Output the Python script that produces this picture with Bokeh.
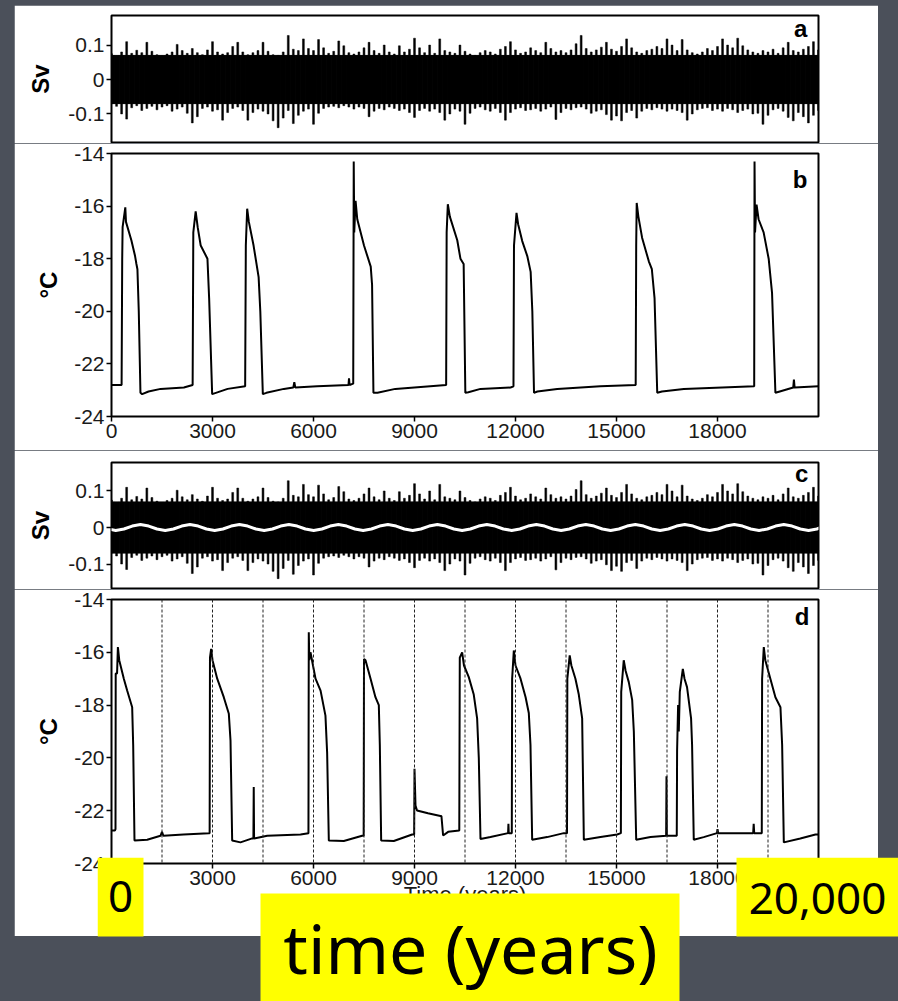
from bokeh.plotting import figure
from bokeh.models import Range1d, FixedTicker, Label, Span
from bokeh.layouts import column
from bokeh.core.properties import value
from bokeh.embed import file_html
from bokeh.resources import INLINE

# ---------------- data ----------------
# freshwater-flux noise envelope (panels a and c), sampled every 150 years, in mSv
noise_t = list(range(0, 21001, 150))
noise_upper_mSv = [75, 68, 80, 110, 76, 85, 78, 108, 82, 72,
                   68, 74, 80, 102, 84, 76, 90, 78, 72, 86,
                   110, 80, 74, 78, 96, 108, 80, 72, 78, 84,
                   108, 82, 72, 70, 80, 128, 88, 84, 118, 90,
                   84, 116, 92, 76, 82, 112, 98, 78, 74, 80,
                   92, 108, 84, 76, 100, 80, 74, 98, 80, 88,
                   120, 92, 78, 100, 76, 118, 84, 80, 76, 100,
                   82, 74, 70, 78, 84, 80, 74, 88, 96, 110,
                   86, 76, 80, 92, 84, 78, 108, 90, 80, 84,
                   78, 86, 104, 128, 90, 80, 86, 94, 108, 88,
                   82, 96, 118, 92, 80, 76, 84, 88, 96, 90,
                   118, 100, 84, 116, 86, 78, 74, 80, 90, 84,
                   96, 118, 100, 92, 120, 98, 86, 80, 76, 84,
                   80, 88, 76, 92, 108, 84, 80, 88, 96, 110,
                   86]
noise_lower_mSv = [-70, -78, -100, -115, -82, -76, -90, -84, -78, -88,
                   -80, -76, -92, -86, -80, -98, -126, -108, -84, -80,
                   -92, -88, -118, -96, -84, -80, -90, -118, -96, -86,
                   -92, -100, -120, -140, -112, -90, -128, -104, -92, -86,
                   -130, -98, -84, -80, -78, -82, -76, -80, -86, -80,
                   -84, -108, -92, -84, -88, -80, -84, -90, -86, -96,
                   -110, -90, -84, -92, -86, -96, -118, -100, -86, -92,
                   -130, -98, -84, -80, -88, -92, -84, -96, -118, -96,
                   -86, -82, -90, -88, -84, -92, -86, -80, -116, -96,
                   -84, -88, -82, -80, -86, -98, -92, -88, -102, -118,
                   -106, -120, -96, -90, -112, -92, -84, -88, -82, -86,
                   -92, -86, -90, -96, -118, -100, -88, -84, -82, -90,
                   -86, -92, -84, -88, -96, -90, -86, -100, -98, -130,
                   -104, -88, -84, -92, -110, -120, -96, -108, -126, -104,
                   -90]
noise_core_mSv = 70   # solid part of the noise band

# periodic forcing (white curve in panel c), Sv
wave_t = [-120, 125, 370, 615, 860, 1105, 1350, 1595, 1840, 2085, 2330, 2575,
          2820, 3065, 3310, 3555, 3800, 4045, 4290, 4535, 4780, 5025, 5270, 5515,
          5760, 6005, 6250, 6495, 6740, 6985, 7230, 7475, 7720, 7965, 8210, 8455,
          8700, 8945, 9190, 9435, 9680, 9925, 10170, 10415, 10660, 10905, 11150, 11395,
          11640, 11885, 12130, 12375, 12620, 12865, 13110, 13355, 13600, 13845, 14090, 14335,
          14580, 14825, 15070, 15315, 15560, 15805, 16050, 16295, 16540, 16785, 17030, 17275,
          17520, 17765, 18010, 18255, 18500, 18745, 18990, 19235, 19480, 19725, 19970, 20215,
          20460, 20705, 20950, 21195]
wave_v = [-0.004, -0.008, -0.004, 0.004, 0.008, 0.004, -0.004, -0.008, -0.004, 0.004, 0.008, 0.004,
          -0.004, -0.008, -0.004, 0.004, 0.008, 0.004, -0.004, -0.008, -0.004, 0.004, 0.008, 0.004,
          -0.004, -0.008, -0.004, 0.004, 0.008, 0.004, -0.004, -0.008, -0.004, 0.004, 0.008, 0.004,
          -0.004, -0.008, -0.004, 0.004, 0.008, 0.004, -0.004, -0.008, -0.004, 0.004, 0.008, 0.004,
          -0.004, -0.008, -0.004, 0.004, 0.008, 0.004, -0.004, -0.008, -0.004, 0.004, 0.008, 0.004,
          -0.004, -0.008, -0.004, 0.004, 0.008, 0.004, -0.004, -0.008, -0.004, 0.004, 0.008, 0.004,
          -0.004, -0.008, -0.004, 0.004, 0.008, 0.004, -0.004, -0.008, -0.004, 0.004, 0.008, 0.004,
          -0.004, -0.008, -0.004, 0.004]

# Greenland temperature, panel b (noise only)
b_t = [0, 300, 318, 330, 410, 430, 590, 700, 740, 770, 810, 860, 910, 1100, 1460, 2150,
       2410, 2430, 2500, 2560, 2650, 2850, 2900, 2990, 3100, 3450,
       3970, 3990, 4030, 4080, 4220, 4370, 4420, 4495, 4600, 5120, 5400, 5430, 5460, 6110,
       7040, 7055, 7070, 7180, 7195, 7210, 7250, 7300, 7500, 7700, 7740, 7780, 7900, 8430,
       9940, 9955, 9990, 10050, 10270, 10365, 10460, 10510, 10600, 10960, 11850,
       11940, 11955, 12030, 12080, 12200, 12350, 12450, 12500, 12550, 12650, 13240, 14520,
       15570, 15585, 15600, 15650, 15760, 15960, 16050, 16130, 16210, 16350, 17000,
       19090, 19100, 19115, 19160, 19220, 19370, 19520, 19620, 19720, 19850, 20250,
       20270, 20290, 21000]
b_v = [-22.8, -22.8, -18.0, -16.8, -16.05, -16.6, -17.3, -17.9, -18.2, -18.4, -20.0, -23.1, -23.15, -23.05, -22.95, -22.9,
       -22.8, -17.0, -16.2, -16.8, -17.5, -18.0, -19.5, -23.15, -23.1, -22.95,
       -22.85, -17.5, -16.1, -16.6, -17.5, -18.7, -20.0, -23.15, -23.1, -22.95, -22.9, -22.7, -22.9, -22.85,
       -22.8, -22.55, -22.8, -22.75, -14.3, -17.0, -15.8, -16.5, -17.5, -18.3, -19.0, -23.1, -23.1, -22.95,
       -22.8, -17.0, -15.93, -16.4, -17.3, -18.0, -18.2, -23.1, -23.08, -22.95, -22.9,
       -22.85, -17.5, -16.26, -16.7, -17.33, -17.9, -18.5, -20.0, -23.1, -23.05, -22.95, -22.85,
       -22.8, -17.5, -15.88, -16.4, -17.2, -18.1, -18.4, -19.5, -23.1, -23.05, -22.95,
       -22.85, -14.3, -17.0, -15.94, -16.5, -17.0, -18.0, -19.3, -23.1, -23.05, -22.9,
       -22.6, -22.9, -22.85]

# Greenland temperature, panel d (noise + periodic forcing)
d_t = [0, 100, 119, 125, 165, 190, 230, 366, 465, 614, 644, 683, 1060, 1455, 1500, 1540, 2140, 2890,
       2915, 2925, 2960, 3000, 3140, 3335, 3485, 3535, 3584, 3830, 4180, 4215, 4225, 4235, 4625, 5615,
       5850, 5860, 5875, 5910, 6060, 6210, 6355, 6405, 6455, 6900, 7445,
       7490, 7500, 7545, 7695, 7840, 7940, 7970, 8010, 8385, 8930,
       8990, 9000, 9030, 9075, 9400, 9770, 9800, 9850, 10000, 10330,
       10345, 10415, 10470, 10612, 10760, 10860, 10910, 10960, 11256, 11780, 11790, 11800, 11890,
       11900, 11950, 12000, 12150, 12300, 12395, 12445, 12495, 12940, 13435, 13530,
       13540, 13610, 13660, 13780, 13880, 13980, 14030, 14525, 15020, 15130,
       15140, 15215, 15270, 15365, 15465, 15515, 15585, 16010, 16475, 16485, 16495, 16750, 16790,
       16800, 16830, 16850, 16880, 16970, 17020, 17095, 17215, 17245, 17295, 17590, 17985, 18000, 18020,
       19060, 19075, 19090, 19315,
       19325, 19375, 19420, 19570, 19720, 19870, 19920, 19970, 20460, 20910, 21000]
d_v = [-22.75, -22.75, -22.7, -16.8, -16.8, -15.8, -16.3, -17.0, -17.45, -18.08, -19.5, -23.13, -23.1, -22.95, -22.8, -22.95, -22.9, -22.85,
       -22.85, -16.2, -15.87, -16.3, -17.0, -17.7, -18.33, -19.34, -23.13, -23.2, -23.05, -23.05, -21.1, -23.05, -22.95, -22.9,
       -22.85, -15.24, -16.3, -16.0, -17.0, -17.45, -18.4, -19.8, -23.13, -23.15, -22.95,
       -22.95, -16.25, -16.3, -17.0, -17.7, -18.0, -19.5, -23.13, -23.15, -22.9,
       -22.9, -20.41, -21.8, -21.99, -22.1, -22.2, -22.2, -22.94, -22.8, -22.75,
       -16.2, -16.0, -16.5, -16.94, -17.6, -18.5, -20.0, -23.07, -23.0, -22.85, -22.5, -22.85, -22.85,
       -17.0, -15.93, -16.5, -17.0, -17.7, -18.3, -19.5, -23.1, -23.0, -22.85, -22.85,
       -17.0, -16.12, -16.5, -17.0, -17.6, -18.5, -23.1, -23.0, -22.9, -22.85,
       -17.5, -16.3, -16.7, -17.13, -17.8, -19.0, -23.1, -23.0, -22.95, -20.7, -22.95, -22.95, -22.95,
       -19.72, -18.0, -19.0, -17.5, -16.63, -17.0, -17.32, -18.5, -19.5, -23.1, -23.0, -22.85, -22.7, -22.85,
       -22.85, -22.5, -22.85, -22.85,
       -17.0, -15.8, -16.3, -17.0, -17.7, -18.08, -19.5, -23.2, -23.05, -22.9, -22.9]

cycle_marks = [1500, 3000, 4500, 6000, 7500, 9000, 10500, 12000, 13500, 15000, 16500, 18000, 19500]

sv_ticks = [-0.1, 0, 0.1]
sv_tick_labels = ["-0.1", "0", "0.1"]
temp_ticks = [-24, -22, -20, -18, -16, -14]
temp_tick_labels = ["-24", "-22", "-20", "-18", "-16", "-14"]
time_ticks = [0, 3000, 6000, 9000, 12000, 15000, 18000]
time_tick_labels = ["0", "3000", "6000", "9000", "12000", "15000", "18000"]
panel_letters = ["a", "b", "c", "d"]
callout_texts = ["0", "20,000", "time (years)"]

# ---------------- layout / styling constants ----------------
BG = "#4b505a"
YEL = "#ffff00"
PANEL_X, PANEL_Y = 14, 5          # white slide panel origin on the page
W = 864                           # white panel width
FW = 707                          # plot frame width
LB = 97
RB = W - LB - FW
TICK_FONT = "Liberation Sans"
BOLD_FONT = "Liberation Sans"
X0, X1 = 0, 21000

# call-out overlay, page pixel coordinates
OV_L, OV_R, OV_T, OV_B = 97, 898, 857, 1001
box_left = [97, 736, 260]
box_right = [143, 898, 679]
box_top = [857, 857, 893]
box_bottom = [936, 936, 1001]
text_x = [120, 817, 470]
text_y = [896, 898, 947]
text_size = ["44px", "44px", "68px"]


def base_fig(height, top, bottom, yr, show_x, ylabel_standoff):
    kw = dict(width=W, height=height, x_range=Range1d(X0, X1), y_range=Range1d(*yr),
              output_backend="svg", toolbar_location=None,
              min_border_left=LB, min_border_right=RB,
              min_border_top=top, min_border_bottom=bottom)
    if not show_x:
        kw["x_axis_location"] = None
    p = figure(**kw)
    p.background_fill_color = "white"
    p.border_fill_color = "white"
    p.outline_line_color = "black"
    p.outline_line_width = 2
    p.xgrid.visible = False
    p.ygrid.visible = False
    for ax in p.axis:
        ax.axis_line_color = None
        ax.major_tick_out = 5
        ax.major_tick_in = 0
        ax.minor_tick_out = 0
        ax.minor_tick_in = 0
        ax.major_tick_line_color = "black"
        ax.major_tick_line_width = 1.5
        ax.major_label_text_font = TICK_FONT
        ax.major_label_text_font_size = "21px"
        ax.major_label_text_color = "#1a1a1a"
        ax.major_label_standoff = 2
    ya = p.yaxis[0]
    ya.axis_label_text_font = BOLD_FONT
    ya.axis_label_text_font_style = "bold"
    ya.axis_label_text_font_size = "24px"
    ya.axis_label_text_color = "black"
    ya.axis_label_standoff = ylabel_standoff
    if show_x:
        xa = p.xaxis[0]
        xa.ticker = FixedTicker(ticks=time_ticks)
        xa.major_label_overrides = dict(zip(time_ticks, time_tick_labels))
    return p


def sv_axis(p):
    ya = p.yaxis[0]
    ya.ticker = FixedTicker(ticks=sv_ticks)
    ya.major_label_overrides = dict(zip(sv_ticks, sv_tick_labels))
    ya.axis_label = "Sv"


def temp_axis(p):
    ya = p.yaxis[0]
    ya.ticker = FixedTicker(ticks=temp_ticks)
    ya.major_label_overrides = dict(zip(temp_ticks, temp_tick_labels))
    ya.axis_label = "°C"


def letter(p, text, x, y):
    p.add_layout(Label(x=x, y=y, text=text, text_align="right", text_baseline="alphabetic",
                       text_font=BOLD_FONT, text_font_style="bold", text_font_size="24px",
                       text_color="black"))


def noise(p):
    up = [v / 1000 for v in noise_upper_mSv]
    lo = [v / 1000 for v in noise_lower_mSv]
    core = noise_core_mSv / 1000
    p.vbar(x=noise_t, width=150, top=[core] * len(noise_t), bottom=[-core] * len(noise_t),
           fill_color="black", line_color="black")
    p.vbar(x=noise_t, width=55, top=up, bottom=lo, fill_color="black", line_color="black",
           line_width=0.5)


# ---- panel a ----  (frame: page y 15..142)
pa = base_fig(138, 10, 1, (-0.183, 0.186), False, 11)
sv_axis(pa)
noise(pa)
letter(pa, panel_letters[0], 20670, 0.148)

# ---- panel b ----  (frame: page y 153..416)
pb = base_fig(307, 10, 34, (-24, -14), True, 9)
temp_axis(pb)
pb.line(b_t, b_v, line_color="black", line_width=2)
letter(pb, panel_letters[1], 20670, -14.99)

# ---- panel c ----  (frame: page y 462..588)
pc = base_fig(139, 12, 1, (-0.167, 0.178), False, 11)
sv_axis(pc)
noise(pc)
pc.line(wave_t, wave_v, line_color="white", line_width=3)
letter(pc, panel_letters[2], 20700, 0.148)

# ---- panel d ----  (frame: page y 599..863)
pd_ = base_fig(347, 10, 73, (-24, -14), True, 9)
temp_axis(pd_)
for t in cycle_marks:
    pd_.add_layout(Span(location=t, dimension="height", line_color="#222222",
                        line_width=1, line_dash="3 2"))
pd_.line(d_t, d_v, line_color="black", line_width=2)
letter(pd_, panel_letters[3], 20730, -14.64)
xa = pd_.xaxis[0]
xa.axis_label = "Time (years)"
xa.axis_label_text_font = BOLD_FONT
xa.axis_label_text_font_style = "normal"
xa.axis_label_text_font_size = "22px"
xa.axis_label_text_color = "#1a1a1a"
xa.axis_label_standoff = -6

layout = column(pa, pb, pc, pd_, spacing=0,
                styles={"margin-left": "%dpx" % PANEL_X,
                        "margin-top": "%dpx" % PANEL_Y})

# ---- call-out overlay (yellow boxes of the slide), separate root placed on the page ----
ov = figure(width=OV_R - OV_L, height=OV_B - OV_T,
            x_range=Range1d(OV_L, OV_R), y_range=Range1d(OV_B, OV_T),
            output_backend="svg", toolbar_location=None,
            x_axis_location=None, y_axis_location=None,
            min_border=0, min_border_left=0, min_border_right=0,
            min_border_top=0, min_border_bottom=0,
            styles={"position": "absolute",
                    "left": "%dpx" % OV_L,
                    "top": "%dpx" % OV_T})
ov.background_fill_color = None
ov.border_fill_color = None
ov.outline_line_color = None
ov.grid.visible = False
ov.quad(left=box_left, right=box_right, top=box_top, bottom=box_bottom,
        fill_color=YEL, line_color=None)
ov.text(x=text_x, y=text_y, text=callout_texts, text_align="center",
        text_baseline="alphabetic", text_font=value("Noto Sans"),
        text_font_size=text_size, text_color="black")

html = file_html([layout, ov], INLINE)
css = "<style>html, body { background-color: %s !important; }</style>" % BG
html = html.replace("</head>", css + "</head>", 1)
open("out.html", "w").write(html)
